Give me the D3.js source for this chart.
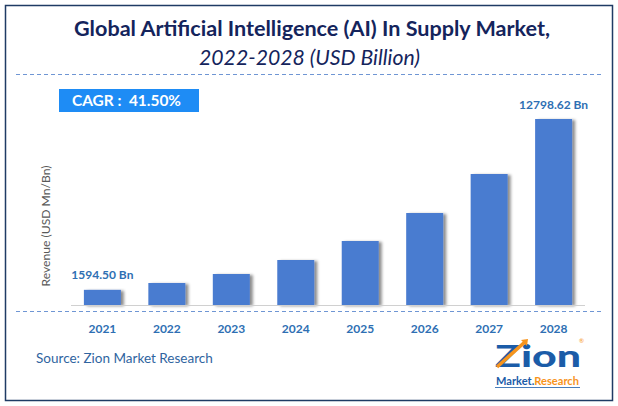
<!DOCTYPE html>
<html><head><meta charset="utf-8">
<script src="https://cdn.jsdelivr.net/npm/d3@7"></script>
<style>
html,body{margin:0;padding:0;background:#fff;}
svg{display:block;font-family:Lato,"Open Sans",sans-serif;}
</style></head>
<body><svg id="chart" width="618" height="406"></svg>
<script>
const years = ["2021","2022","2023","2024","2025","2026","2027","2028"];
const revenue = [1594.50, 2043, 2633, 3551, 4797, 6633, 9191, 12798.62];
const labelled = ["2021","2028"];
const titleLine1 = "Global Artificial Intelligence (AI) In Supply Market,";
const titleLine2 = "2022-2028 (USD Billion)";
const cagrText = "CAGR :  41.50%";
const yAxisLabel = "Revenue (USD Mn/Bn)";
const sourceText = "Source: Zion Market Research";

const svg = d3.select("#chart");
const defs = svg.append("defs");
const f = defs.append("filter").attr("id","shadow").attr("x","-20%").attr("y","-10%").attr("width","150%").attr("height","130%");
f.append("feDropShadow").attr("dx",3).attr("dy",1).attr("stdDeviation",1.8).attr("flood-color","#000").attr("flood-opacity",0.45);

function fit(sel, w){
  const n = sel.node();
  let fs = parseFloat(sel.attr("font-size"));
  for(let i=0;i<3;i++){ const L=n.getComputedTextLength(); fs = fs*w/L; sel.attr("font-size",fs); }
}

// frame
svg.append("rect").attr("x",5.5).attr("y",5.5).attr("width",607).attr("height",395)
  .attr("fill","#fff").attr("stroke","#1f3b64").attr("stroke-width",1.5);

// titles
const t1 = svg.append("text").attr("x",74).attr("y",36).attr("font-size",20).attr("font-weight","bold")
  .attr("fill","#14245c").text(titleLine1);
fit(t1, 476);
const t2 = svg.append("text").attr("x",199).attr("y",65).attr("font-size",20).attr("font-style","italic")
  .attr("fill","#14245c").text(titleLine2);
fit(t2, 221);

svg.append("line").attr("x1",16).attr("x2",601).attr("y1",74.5).attr("y2",74.5)
  .attr("stroke","#6f96d4").attr("stroke-width",1).attr("stroke-dasharray","4,3");

// CAGR box
svg.append("rect").attr("x",59).attr("y",89).attr("width",140).attr("height",23).attr("fill","#1e8cf5");
const ct = svg.append("text").attr("x",72).attr("y",106).attr("font-size",15).attr("font-weight","bold")
  .attr("fill","#fff").attr("xml:space","preserve").style("white-space","pre").text(cagrText);
fit(ct, 109);

// scales
const x = d3.scaleBand().domain(years).range([71,585]).paddingInner(0.426).paddingOuter(0.2);
const y = d3.scaleLinear().domain([600, 12798.62]).range([305,119]);

// bars
svg.append("g").selectAll("rect").data(years).join("rect")
  .attr("x",d=>x(d)).attr("width",x.bandwidth())
  .attr("y",(d,i)=>y(revenue[i])).attr("height",(d,i)=>305-y(revenue[i]))
  .attr("fill","#4a7bd0").attr("filter","url(#shadow)");

// axis
const xAxis = svg.append("g").attr("transform","translate(0,305)")
  .call(d3.axisBottom(x).tickSize(0).tickPadding(19));
xAxis.select(".domain").attr("stroke","#d0d0d0").attr("stroke-width",1.2).attr("d","M71,0.5H585");
xAxis.selectAll("text").attr("font-size",12).attr("font-weight","bold").attr("fill","#2e6fb3")
  .attr("font-family","Lato");

svg.append("line").attr("x1",16).attr("x2",602).attr("y1",311.5).attr("y2",311.5)
  .attr("stroke","#6f96d4").attr("stroke-width",1).attr("stroke-dasharray","4,3");

// value labels
svg.append("g").selectAll("text").data(years.filter(d=>labelled.includes(d))).join("text")
  .attr("x",d=>x(d)+x.bandwidth()/2)
  .attr("y",d=>y(revenue[years.indexOf(d)])-10.5)
  .attr("text-anchor","middle").attr("font-size",12).attr("font-weight","bold").attr("fill","#2e6fb3")
  .text(d=>d3.format(".2f")(revenue[years.indexOf(d)])+" Bn");

// y label
const yl = svg.append("text").attr("transform","translate(50,226) rotate(-90)").attr("text-anchor","middle")
  .attr("font-size",11).attr("fill","#595959").text(yAxisLabel);
fit(yl, 121);

// source
const st = svg.append("text").attr("x",36).attr("y",363).attr("font-size",13).attr("fill","#2f64a0").text(sourceText);
fit(st, 177);

// logo
const logo = svg.append("g");
logo.append("text").attr("x",495).attr("y",367).attr("font-size",31).attr("font-weight","900")
  .attr("fill","#1b5ca8").attr("textLength",86).attr("lengthAdjust","spacingAndGlyphs").text("Zion");
logo.append("path").attr("d","M497,367 L526,341").attr("stroke","#f7941d").attr("stroke-width",3.5);
logo.append("path").attr("d","M521,340 L528,339 L527,346 Z").attr("fill","#f7941d");
logo.append("text").attr("x",579).attr("y",343).attr("font-size",6).attr("fill","#f7941d").text("®");
const mt = logo.append("text").attr("x",496).attr("y",385).attr("font-size",10).attr("font-weight","bold");
mt.append("tspan").attr("fill","#1b5ca8").text("Market.");
mt.append("tspan").attr("fill","#f7941d").text("Research");
fit(mt, 83);
logo.append("line").attr("x1",495).attr("x2",580).attr("y1",387.5).attr("y2",387.5).attr("stroke","#1b5ca8").attr("stroke-width",0.8);
</script>
</body></html>
